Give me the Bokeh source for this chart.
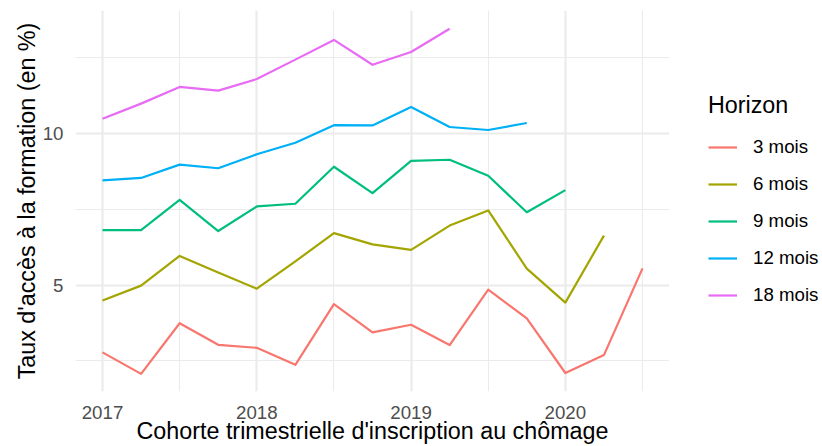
from bokeh.plotting import figure
from bokeh.layouts import row
from bokeh.models import Range1d, FixedTicker, Legend, LegendItem
from bokeh.embed import file_html
from bokeh.resources import INLINE

# ---- data ----
quarters = [2017.0, 2017.25, 2017.5, 2017.75, 2018.0, 2018.25, 2018.5, 2018.75,
            2019.0, 2019.25, 2019.5, 2019.75, 2020.0, 2020.25, 2020.5]
mois3 = [2.78, 2.07, 3.74, 3.03, 2.93, 2.37, 4.37, 3.44, 3.69, 3.02, 4.85, 3.90, 2.10, 2.69, 5.55]
mois6 = [4.49, 4.98, 5.96, 5.41, 4.88, 5.78, 6.71, 6.34, 6.16, 6.96, 7.46, 5.54, 4.42, 6.63]
mois9 = [6.81, 6.81, 7.81, 6.78, 7.59, 7.68, 8.90, 8.03, 9.09, 9.13, 8.60, 7.40, 8.13]
mois12 = [8.45, 8.53, 8.97, 8.85, 9.31, 9.69, 10.27, 10.26, 10.87, 10.21, 10.11, 10.34]
mois18 = [10.48, 10.98, 11.53, 11.41, 11.79, 12.43, 13.08, 12.26, 12.68, 13.45]
series_labels = ["3 mois", "6 mois", "9 mois", "12 mois", "18 mois"]
series_values = [mois3, mois6, mois9, mois12, mois18]
colors = ["#F8766D", "#A3A500", "#00BF7D", "#00B0F6", "#E76BF3"]

x_ticks = [2017, 2018, 2019, 2020]
x_minor = [2017.5, 2018.5, 2019.5, 2020.5]
y_ticks = [5, 10]
y_minor = [2.5, 7.5, 12.5]

FONT = "Liberation Sans"

# ---- main panel ----
p = figure(width=669, height=446, output_backend="svg", toolbar_location=None,
           x_range=Range1d(2016.825, 2020.675), y_range=Range1d(1.49, 14.05),
           min_border_left=75, min_border_right=0, min_border_top=10,
           min_border_bottom=53)
p.outline_line_color = None
p.background_fill_color = "white"
p.border_fill_color = "white"

p.xaxis.ticker = FixedTicker(ticks=x_ticks, minor_ticks=x_minor)
p.yaxis.ticker = FixedTicker(ticks=y_ticks, minor_ticks=y_minor)

for ax in (p.xaxis, p.yaxis):
    ax.axis_line_color = None
    ax.major_tick_line_color = None
    ax.minor_tick_line_color = None
    ax.major_tick_out = 0
    ax.major_tick_in = 0
    ax.major_label_text_font = FONT
    ax.major_label_text_font_size = "18.7px"
    ax.major_label_text_color = "#4D4D4D"
    ax.axis_label_text_font = FONT
    ax.axis_label_text_font_size = "23.3px"
    ax.axis_label_text_font_style = "normal"
    ax.axis_label_text_color = "black"

p.xaxis.axis_label = "Cohorte trimestrielle d'inscription au chômage"
p.yaxis.axis_label = "Taux d'accès à la formation (en %)"
p.xaxis.major_label_standoff = 10
p.xaxis.axis_label_standoff = -4
p.yaxis.major_label_standoff = 8
p.yaxis.axis_label_standoff = 0

for g in (p.xgrid, p.ygrid):
    g.grid_line_color = "#EBEBEB"
    g.grid_line_width = 2.2
    g.minor_grid_line_color = "#EBEBEB"
    g.minor_grid_line_width = 1.1

for lab, vals, col in zip(series_labels, series_values, colors):
    p.line(quarters[:len(vals)], vals, line_color=col, line_width=2.2,
           line_join="round")

# ---- legend panel (same series, drawn outside its visible range) ----
q = figure(width=153, height=446, output_backend="svg", toolbar_location=None,
           x_range=Range1d(0, 1), y_range=Range1d(0, 1),
           x_axis_location=None, y_axis_location=None,
           min_border_left=0, min_border_right=0, min_border_top=0,
           min_border_bottom=0)
q.outline_line_color = None
q.xgrid.visible = False
q.ygrid.visible = False
q.background_fill_color = "white"
q.border_fill_color = "white"

items = []
for lab, vals, col in zip(series_labels, series_values, colors):
    r = q.line(quarters[:len(vals)], vals, line_color=col, line_width=2.2)
    items.append(LegendItem(label=lab, renderers=[r]))

legend = Legend(items=items, location=(39, 85))
legend.title = "Horizon"
legend.title_text_font = FONT
legend.title_text_font_size = "23.3px"
legend.title_text_font_style = "normal"
legend.title_text_color = "black"
legend.title_standoff = 17
legend.label_text_font = FONT
legend.label_text_font_size = "18.7px"
legend.label_text_color = "black"
legend.glyph_width = 29
legend.glyph_height = 22
legend.label_height = 22
legend.label_standoff = 16
legend.spacing = 15
legend.padding = 0
legend.margin = 0
legend.border_line_color = None
legend.background_fill_color = None
q.add_layout(legend)

layout = row(p, q)
open("out.html", "w").write(file_html(layout, INLINE))
